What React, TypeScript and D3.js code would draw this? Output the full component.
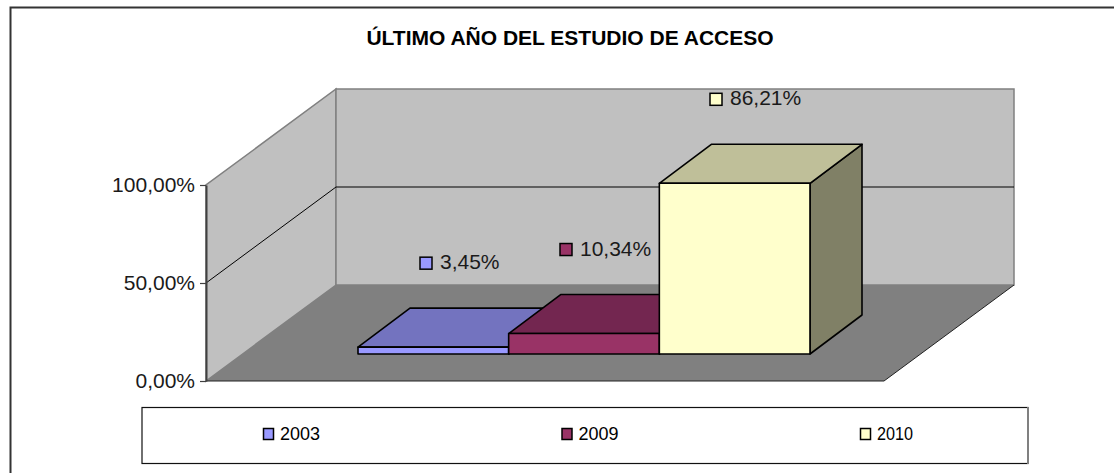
import React, { useEffect, useRef } from "react";
import * as d3 from "d3";

const title = "ÚLTIMO AÑO DEL ESTUDIO DE ACCESO";
const categories = ["2003", "2009", "2010"];
const values = [0.0345, 0.1034, 0.8621];
const valueLabels = ["3,45%", "10,34%", "86,21%"];
const faceColors = ["#9999FF", "#993366", "#FFFFCC"];
const topColors = ["#7373BF", "#732650", "#BFBF99"];
const sideColors = ["#4D4D80", "#4D1A33", "#808066"];
const axisTicks = [0, 0.5, 1];

const width = 1114;
const height = 473;
// wall depth and bar depth of the fake 3d box
const depth = { x: 130, y: -96 };
const barDepth = { x: 52, y: -39 };

const y = d3.scaleLinear().domain([0, 1]).range([381, 185]);
const barY = d3.scaleLinear().domain([0, 1]).range([354, 156]);
const x = d3.scaleBand().domain(categories).range([358, 810]).padding(0);
const labelX = d3.scaleOrdinal<string, number>().domain(categories).range([420, 560, 710]);
const legendX = d3.scalePoint().domain(categories).range([263, 860]);

const poly = (pts: number[][]) => "M" + pts.map((p) => p.join(",")).join("L") + "Z";

const App = () => {
	const axisRef = useRef<SVGGElement>(null);

	useEffect(() => {
		const axis = d3
			.axisLeft(y)
			.tickValues(axisTicks)
			.tickSize(6)
			.tickSizeOuter(0)
			.tickPadding(5)
			.tickFormat((d) => d3.format(".2f")(+d * 100).replace(".", ",") + "%");
		const g = d3.select(axisRef.current).attr("transform", "translate(206,0)").call(axis as any);
		g.selectAll("path, line").attr("stroke", "#404040");
		g.select("path").attr("stroke-width", 2);
		g.selectAll("line").attr("stroke-width", 1.2);
		g.selectAll("text")
			.attr("font-family", "Liberation Sans")
			.attr("font-size", 21)
			.attr("fill", "#1a1a1a");
	}, []);

	const floorLeft = 206;
	const floorRight = 884;
	const y0 = y(0);
	const y1 = y(1);

	return (
		<svg
			width={width}
			height={height}
			style={{ position: "absolute", left: 0, top: 0, background: "#fff" }}
			fontFamily="Liberation Sans"
		>
			<path d={`M1114,7.5H10.5V473`} fill="none" stroke="#333" strokeWidth={2} />
			<text x={570} y={45} textAnchor="middle" fontSize={21} fontWeight="bold" fill="#000">
				{title}
			</text>

			{/* walls and floor */}
			<path
				d={poly([
					[floorLeft, y0],
					[floorLeft, y1],
					[floorLeft + depth.x, y1 + depth.y],
					[floorLeft + depth.x, y0 + depth.y],
				])}
				fill="#C0C0C0"
				stroke="#808080"
				strokeWidth={1.5}
			/>
			<path
				d={poly([
					[floorLeft + depth.x, y0 + depth.y],
					[floorLeft + depth.x, y1 + depth.y],
					[floorRight + depth.x, y1 + depth.y],
					[floorRight + depth.x, y0 + depth.y],
				])}
				fill="#C0C0C0"
				stroke="#808080"
				strokeWidth={1.5}
			/>
			<path
				d={poly([
					[floorLeft, y0],
					[floorLeft + depth.x, y0 + depth.y],
					[floorRight + depth.x, y0 + depth.y],
					[floorRight, y0],
				])}
				fill="#808080"
			/>
			<path
				d={`M${floorLeft},${y0}H${floorRight}L${floorRight + depth.x},${y0 + depth.y}`}
				fill="none"
				stroke="#222"
				strokeWidth={1}
			/>
			<path
				d={`M${floorLeft},${y(0.5)}L${floorLeft + depth.x},${y(0.5) + depth.y}H${floorRight + depth.x}`}
				fill="none"
				stroke="#000"
				strokeWidth={1}
			/>
			<g ref={axisRef} />

			{/* bars, left to right so each one hides the side of the previous */}
			{categories.map((c, i) => {
				const x0 = x(c) as number;
				const x1 = x0 + x.bandwidth();
				const top = barY(values[i]);
				const base = barY(0);
				return (
					<g key={c} stroke="#000" strokeWidth={1.6} strokeLinejoin="round">
						<path
							d={poly([
								[x1, top],
								[x1 + barDepth.x, top + barDepth.y],
								[x1 + barDepth.x, base + barDepth.y],
								[x1, base],
							])}
							fill={sideColors[i]}
						/>
						<path
							d={poly([
								[x0, top],
								[x0 + barDepth.x, top + barDepth.y],
								[x1 + barDepth.x, top + barDepth.y],
								[x1, top],
							])}
							fill={topColors[i]}
						/>
						<rect x={x0} y={top} width={x.bandwidth()} height={base - top} fill={faceColors[i]} />
					</g>
				);
			})}

			{/* data labels with their legend keys */}
			{categories.map((c, i) => {
				const lx = labelX(c);
				const ly = barY(values[i]) + barDepth.y - 51;
				return (
					<g key={c}>
						<rect x={lx} y={ly} width={12} height={12} fill={faceColors[i]} stroke="#000" strokeWidth={1.5} />
						<text x={lx + 20} y={ly + 12} fontSize={21} fill="#1a1a1a">
							{valueLabels[i]}
						</text>
					</g>
				);
			})}

			{/* legend */}
			<rect x={142} y={407.5} width={886} height={56} fill="#fff" stroke="#111" strokeWidth={1.2} />
			<path d="M1028,407V464" stroke="#808080" strokeWidth={2} />
			{categories.map((c, i) => (
				<g key={c} transform={`translate(${legendX(c)},0)`}>
					<rect x={0.5} y={428.5} width={10} height={11} fill={faceColors[i]} stroke="#000" strokeWidth={1.5} />
					<text x={17} y={440} fontSize={17.5} textLength={i === 2 ? 36 : 40} lengthAdjust="spacingAndGlyphs" fill="#000">
						{c}
					</text>
				</g>
			))}
		</svg>
	);
};

export default App;
